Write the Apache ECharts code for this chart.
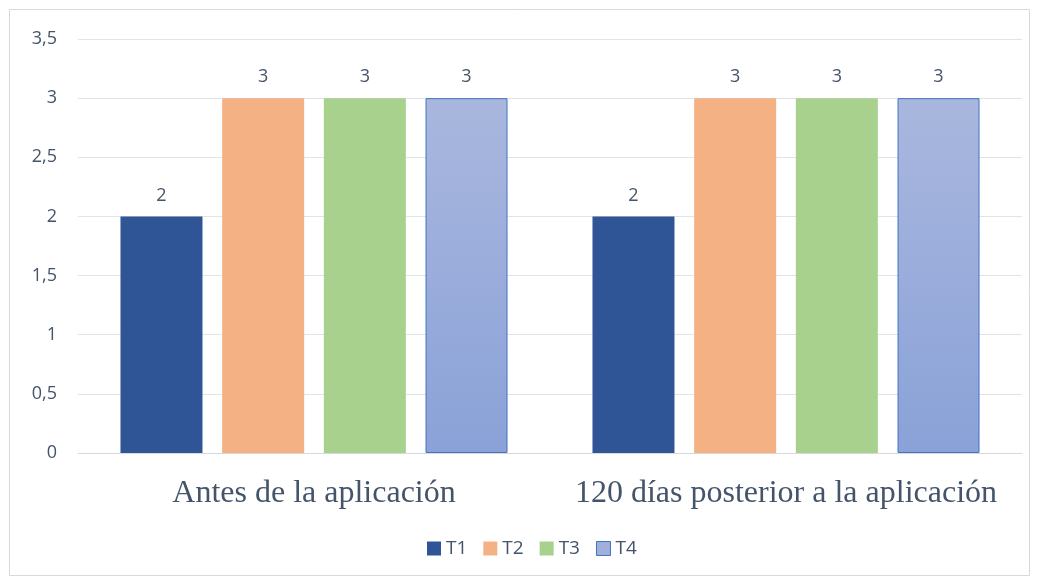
<!DOCTYPE html>
<html><head><meta charset="utf-8">
<script src="https://cdn.jsdelivr.net/npm/echarts@6/dist/echarts.min.js"></script>
<style>html,body{margin:0;padding:0;background:#fff}#c{width:1038px;height:579px}</style>
</head><body><div id="c"></div>
<script>
const categories = ['Antes de la aplicación', '120 días posterior a la aplicación'];
const seriesNames = ['T1', 'T2', 'T3', 'T4'];
const t1 = [2, 2];
const t2 = [3, 3];
const t3 = [3, 3];
const t4 = [3, 3];
const yTicks = ['0', '0,5', '1', '1,5', '2', '2,5', '3', '3,5'];

const values = [t1, t2, t3, t4];
const colors = [
  '#2f5597',
  '#f4b183',
  '#a9d18e',
  new echarts.graphic.LinearGradient(0, 0, 0, 1, [{offset: 0, color: '#a9b7de'}, {offset: 1, color: '#8aa2d8'}])
];
const legendColors = ['#2f5597', '#f4b183', '#a9d18e', '#9fb0dc'];
const txt = '#44546a';

const chart = echarts.init(document.getElementById('c'), null, {renderer: 'canvas'});
chart.setOption({
  animation: false,
  backgroundColor: '#fff',
  graphic: [{type: 'rect', shape: {x: 9.5, y: 9.5, width: 1020, height: 566}, style: {fill: 'none', stroke: '#d9d9d9', lineWidth: 1}}],
  grid: {left: 78, right: 16, top: 39, bottom: 126, containLabel: false},
  legend: {
    bottom: 16, left: 422, icon: 'rect', itemWidth: 14, itemHeight: 14, itemGap: 16,
    textStyle: {fontFamily: 'Open Sans', fontSize: 19, color: txt},
    data: seriesNames.map((n, i) => ({name: n, itemStyle: {color: legendColors[i], borderColor: i === 3 ? '#4472c4' : legendColors[i], borderWidth: i === 3 ? 1 : 0}}))
  },
  xAxis: {
    type: 'category', data: categories,
    axisLine: {lineStyle: {color: '#d9d9d9', width: 1}},
    axisTick: {show: false},
    axisLabel: {interval: 0, fontFamily: 'Liberation Serif', fontSize: 32, color: txt, margin: 25}
  },
  yAxis: {
    type: 'value', min: 0, max: 3.5, interval: 0.5,
    axisLine: {show: false}, axisTick: {show: false},
    splitLine: {lineStyle: {color: '#e0e3e8', width: 1}},
    axisLabel: {fontFamily: 'Open Sans', fontSize: 18, color: txt, margin: 21,
      formatter: v => yTicks[Math.round(v * 2)]}
  },
  series: seriesNames.map((n, i) => ({
    name: n, type: 'bar', data: values[i],
    barWidth: 82, barGap: '24%',
    itemStyle: {color: colors[i], borderColor: i === 3 ? '#4472c4' : null, borderWidth: i === 3 ? 1 : 0},
    label: {show: true, position: 'top', distance: 12, fontFamily: 'Open Sans', fontSize: 18, color: txt}
  }))
});
</script></body></html>
